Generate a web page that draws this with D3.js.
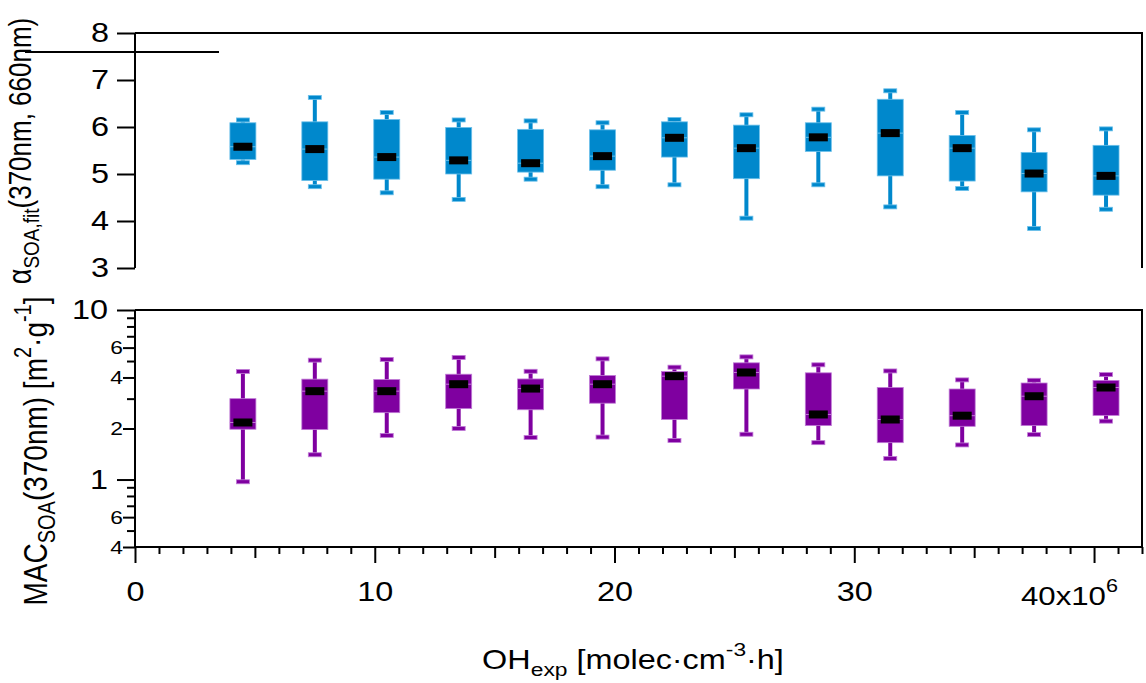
<!DOCTYPE html>
<html lang="en">
<head>
<meta charset="utf-8">
<style type="text/css">
    body { margin: 0; background: #fff; }
    svg { font-family: "Liberation Sans", Arial, sans-serif; }
    .tick_big { font-size: 27px; fill: black; }
    .tick_small { font-size: 19px; fill: black; }
    .title_text { font-size: 27px; fill: black; }
</style>
</head>
<body>
<div id="graph"></div>
<script src="https://cdn.jsdelivr.net/npm/d3@7"></script>
<script type="text/javascript">
// OH exposure bin centres (x10^6 molec cm-3 h)
var ohBins = [4.5, 7.5, 10.5, 13.5, 16.5, 19.5, 22.5, 25.5, 28.5, 31.5, 34.5, 37.5, 40.5];

// alpha SOA,fit (370nm, 660nm) box stats
var alphaLow  = [5.24, 4.73, 4.60, 4.46, 4.89, 4.73, 4.77, 4.06, 4.77, 4.30, 4.69, 3.84, 4.25];
var alphaQ1   = [5.31, 4.86, 4.89, 5.00, 5.04, 5.08, 5.36, 4.90, 5.48, 4.96, 4.85, 4.62, 4.55];
var alphaMed  = [5.58, 5.53, 5.36, 5.29, 5.23, 5.38, 5.77, 5.55, 5.78, 5.87, 5.55, 5.01, 4.96];
var alphaQ3   = [6.09, 6.11, 6.16, 5.99, 5.95, 5.94, 6.11, 6.04, 6.09, 6.59, 5.82, 5.46, 5.61];
var alphaHigh = [6.15, 6.63, 6.31, 6.15, 6.13, 6.09, 6.16, 6.26, 6.38, 6.77, 6.31, 5.94, 5.96];

// MAC SOA (370nm) box stats, m2/g
var macLow  = [0.97, 1.40, 1.82, 2.00, 1.77, 1.78, 1.70, 1.85, 1.65, 1.33, 1.60, 1.84, 2.21];
var macQ1   = [1.98, 1.97, 2.48, 2.62, 2.58, 2.82, 2.26, 3.42, 2.08, 1.65, 2.06, 2.08, 2.39];
var macMed  = [2.17, 3.32, 3.32, 3.65, 3.44, 3.65, 4.07, 4.28, 2.42, 2.26, 2.38, 3.10, 3.49];
var macQ3   = [3.00, 3.91, 3.89, 4.18, 3.92, 4.11, 4.34, 4.88, 4.26, 3.49, 3.42, 3.71, 3.84];
var macHigh = [4.34, 5.06, 5.11, 5.25, 4.35, 5.15, 4.60, 5.29, 4.75, 4.37, 3.87, 3.85, 4.16];

var alphaTicks = [3, 4, 5, 6, 7, 8];
var macMinor = [0.4, 0.5, 0.6, 0.7, 0.8, 0.9, 1, 2, 3, 4, 5, 6, 7, 8, 9, 10];
var macLabels = {0.4: "4", 0.6: "6", 1: "1", 2: "2", 4: "4", 6: "6", 10: "10"};
var xLabels = [0, 10, 20, 30];

var width = 1146, height = 683;
var left = 135, right = 1142;
var SX = 1.2;   // the original figure's text is stretched sideways

var svg = d3.select("#graph").append("svg")
    .attr("width", width)
    .attr("height", height);

var x = d3.scaleLinear().domain([0, 42]).range([left, right]);
var yTop = d3.scaleLinear().domain([3, 8]).range([268, 33]);
var yBot = d3.scaleLog().domain([0.4, 10]).range([547, 310]);

function rows(low, q1, med, q3, high) {
    return ohBins.map(function(c, i) {
        return {x: c, low: low[i], q1: q1[i], med: med[i], q3: q3[i], high: high[i]};
    });
}

function drawBoxes(data, y, fill, edge) {
    var g = svg.append("g");
    var b = g.selectAll(".box").data(data).enter().append("g").attr("class", "box");
    b.append("line")
        .attr("x1", function(d) { return x(d.x); })
        .attr("x2", function(d) { return x(d.x); })
        .attr("y1", function(d) { return y(d.low); })
        .attr("y2", function(d) { return y(d.high); })
        .attr("stroke", fill).attr("stroke-width", 4);
    ["low", "high"].forEach(function(k) {
        b.append("rect")
            .attr("x", function(d) { return x(d.x) - 6.5; })
            .attr("y", function(d) { return y(d[k]) - 2; })
            .attr("width", 13).attr("height", 4)
            .attr("fill", fill).attr("stroke", edge).attr("stroke-width", 0.8);
    });
    b.append("rect")
        .attr("x", function(d) { return x(d.x) - 13; })
        .attr("y", function(d) { return y(d.q3); })
        .attr("width", 26)
        .attr("height", function(d) { return y(d.q1) - y(d.q3); })
        .attr("fill", fill).attr("stroke", edge).attr("stroke-width", 0.8);
    b.append("line")
        .attr("x1", function(d) { return x(d.x) - 13; })
        .attr("x2", function(d) { return x(d.x) + 13; })
        .attr("y1", function(d) { return y(d.med); })
        .attr("y2", function(d) { return y(d.med); })
        .attr("stroke", edge).attr("stroke-width", 1);
    b.append("rect")
        .attr("x", function(d) { return x(d.x) - 9.5; })
        .attr("y", function(d) { return y(d.med) - 4; })
        .attr("width", 19).attr("height", 8)
        .attr("fill", "black");
}

function frame(y, lo, hi) {
    svg.append("line").attr("x1", left).attr("x2", left).attr("y1", y(hi)).attr("y2", y(lo))
        .attr("stroke", "black").attr("stroke-width", 2);
    svg.append("line").attr("x1", left).attr("x2", right + 1).attr("y1", y(hi)).attr("y2", y(hi))
        .attr("stroke", "black").attr("stroke-width", 2);
    svg.append("line").attr("x1", right).attr("x2", right).attr("y1", y(hi)).attr("y2", y(lo))
        .attr("stroke", "black").attr("stroke-width", 2);
}

// ---- top panel: alpha ----
svg.append("g")
    .attr("transform", "translate(" + left + ",0)")
    .call(d3.axisLeft(yTop).tickValues(alphaTicks).tickSize(18).tickFormat(d3.format("d")))
    .call(function(g) {
        g.select(".domain").remove();
        g.selectAll(".tick line").attr("stroke-width", 2);
        g.selectAll(".tick text").attr("class", "tick_big").attr("font-family", null).attr("font-size", null)
            .attr("x", -26 / SX).attr("transform", "scale(" + SX + ",1)");
    });
frame(yTop, 3, 8);
// stray line left over in the original figure
svg.append("line").attr("x1", 25).attr("x2", 219).attr("y1", 52).attr("y2", 52)
    .attr("stroke", "black").attr("stroke-width", 2);

drawBoxes(rows(alphaLow, alphaQ1, alphaMed, alphaQ3, alphaHigh), yTop, "#0088cc", "#6cc0ea");

// ---- bottom panel: MAC ----
svg.append("g")
    .attr("transform", "translate(" + left + ",0)")
    .call(d3.axisLeft(yBot).tickValues(macMinor).tickSize(8)
        .tickFormat(function(d) { return macLabels[d] || ""; }))
    .call(function(g) {
        g.select(".domain").remove();
        g.selectAll(".tick line").attr("stroke-width", 2)
            .attr("x2", function(d) { return (d === 1 || d === 10) ? -18 : (macLabels[d] ? -12 : -8); });
        g.selectAll(".tick text")
            .attr("font-family", null).attr("font-size", null)
            .attr("class", function(d) { return (d === 1 || d === 10) ? "tick_big" : "tick_small"; })
            .attr("x", function(d) { return ((d === 1 || d === 10) ? -27 : -12) / SX; })
            .attr("transform", "scale(" + SX + ",1)");
    });
frame(yBot, 0.4, 10);

// x axis
svg.append("g")
    .attr("transform", "translate(0," + yBot(0.4) + ")")
    .call(d3.axisBottom(x).tickValues(d3.range(0, 43)).tickSize(7)
        .tickFormat(function(d) { return xLabels.indexOf(d) >= 0 ? d : ""; }))
    .call(function(g) {
        g.select(".domain").attr("stroke-width", 2).attr("d", "M" + left + ",0H" + (right + 1));
        g.selectAll(".tick line").attr("stroke-width", 2)
            .attr("y2", function(d) { return d % 10 === 0 ? 16 : (d % 5 === 0 ? 11 : 7); });
        g.selectAll(".tick text").attr("class", "tick_big").attr("font-family", null).attr("font-size", null)
            .attr("y", 54).attr("dy", 0).attr("transform", "scale(" + SX + ",1)")
            .attr("x", 0);
    });
var lab40 = svg.append("g").attr("transform", "translate(1118,605) scale(" + SX + ",1)")
    .append("text").attr("class", "tick_big").attr("text-anchor", "end").style("font-size", "26px");
lab40.append("tspan").text("40x10");
lab40.append("tspan").attr("dy", -13).style("font-size", "18px").text("6");

drawBoxes(rows(macLow, macQ1, macMed, macQ3, macHigh), yBot, "#7f00a0", "#c07ad6");

// ---- titles ----
var xt = svg.append("g").attr("transform", "translate(633,669) scale(" + SX + ",1)")
    .append("text").attr("class", "title_text").attr("text-anchor", "middle");
xt.append("tspan").text("OH");
xt.append("tspan").attr("dy", 7).style("font-size", "19px").text("exp");
xt.append("tspan").attr("dy", -7).text(" [molec\u00b7cm");
xt.append("tspan").attr("dy", -13).style("font-size", "19px").text("-3");
xt.append("tspan").attr("dy", 13).text("\u00b7h]");

var yt1 = svg.append("text").attr("class", "title_text")
    .attr("transform", "translate(31,151) rotate(-90) scale(1," + SX + ")").attr("text-anchor", "middle")
    .style("font-size", "26px");
yt1.append("tspan").style("font-size", "27px").text("\u03b1");
yt1.append("tspan").attr("dy", 7).style("font-size", "19px").text("SOA,fit");
yt1.append("tspan").attr("dy", -7).text("(370nm, 660nm)");

var yt2 = svg.append("text").attr("class", "title_text")
    .attr("transform", "translate(47,451) rotate(-90) scale(1," + SX + ")").attr("text-anchor", "middle")
    .style("font-size", "28px");
yt2.append("tspan").text("MAC");
yt2.append("tspan").attr("dy", 7).style("font-size", "20px").text("SOA");
yt2.append("tspan").attr("dy", -7).text("(370nm) [m");
yt2.append("tspan").attr("dy", -13).style("font-size", "20px").text("2");
yt2.append("tspan").attr("dy", 13).text("\u00b7g");
yt2.append("tspan").attr("dy", -13).style("font-size", "20px").text("-1");
yt2.append("tspan").attr("dy", 13).text("]");
</script>
</body>
</html>
